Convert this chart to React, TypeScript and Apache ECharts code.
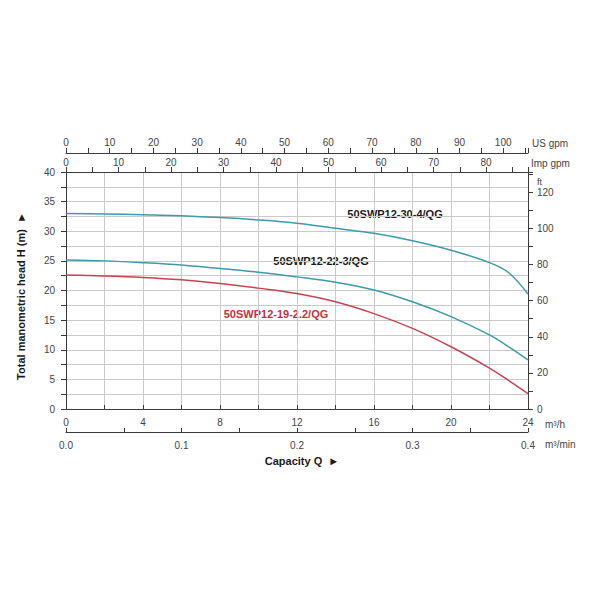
import React, { useEffect, useRef } from 'react';
import * as echarts from 'echarts';

// Flow in m³/h, head in m
const flowM3h = [0, 2, 4, 6, 8, 10, 12, 14, 16, 18, 20, 22, 23, 24];
const head30_4 = [33.0, 32.9, 32.8, 32.6, 32.3, 31.9, 31.35, 30.5, 29.65, 28.4, 26.8, 24.7, 23.0, 19.4];
const head22_3 = [25.15, 25.0, 24.7, 24.3, 23.7, 23.1, 22.3, 21.4, 20.1, 18.1, 15.6, 12.5, 10.5, 8.3];
const head19_22 = [22.6, 22.45, 22.2, 21.8, 21.2, 20.4, 19.5, 18.1, 16.1, 13.6, 10.5, 6.9, 4.8, 2.6];
const seriesNames = ['50SWP12-30-4/QG', '50SWP12-22-3/QG', '50SWP12-19-2.2/QG'];
const unitLabels = ['US gpm', 'Imp gpm', 'ft', 'm³/h', 'm³/min'];
const axisTitles = ['Total manometric head H (m)  ►', 'Capacity Q  ►'];

const Q_MAX = 24;
const H_MAX = 40;
const M3H_TO_USGPM = 4.40287;
const M3H_TO_IMPGPM = 3.66615;
const M_TO_FT = 1 / 0.3048;

const FONT = '"Liberation Sans", Arial, Helvetica, sans-serif';
const TEAL = '#3d99ad';
const RED = '#c4444f';
const AXIS = '#3a3a3a';
const LABEL = '#444';

const multipleOf = (step: number, digits = 0) => (v: number) => {
  const r = Math.round(v / step) * step;
  return Math.abs(v - r) < 1e-6 ? r.toFixed(digits) : '';
};

const pairs = (ys: number[]) => flowM3h.map((q, i) => [q, ys[i]]);

export default function App() {
  const ref = useRef<HTMLDivElement>(null);
  useEffect(() => {
    if (!ref.current) return;
    const chart = echarts.init(ref.current, undefined, { renderer: 'svg' });
    const axisLine = { show: true, onZero: false, lineStyle: { color: AXIS, width: 1 } };
    const labelBase = { color: LABEL, fontSize: 10, fontFamily: FONT };
    const option: any = {
      animation: false,
      backgroundColor: '#ffffff',
      textStyle: { fontFamily: FONT },
      grid: { left: 66, right: 72, top: 172, bottom: 191, containLabel: false, outerBoundsMode: 'none' },
      xAxis: [
        {
          type: 'value', position: 'bottom', min: 0, max: Q_MAX, interval: 2,
          axisLine,
          axisTick: { show: true, inside: true, length: 4, lineStyle: { color: AXIS } },
          axisLabel: { ...labelBase, margin: 8, formatter: multipleOf(4) },
          splitLine: { show: true, lineStyle: { color: '#c9c9c9', width: 1 } },
        },
        {
          type: 'value', position: 'bottom', offset: 23, min: 0, max: 0.4, interval: 0.05,
          axisLine,
          axisTick: { show: true, inside: true, length: 4, lineStyle: { color: AXIS } },
          axisLabel: { ...labelBase, margin: 8, formatter: multipleOf(0.1, 1) },
          splitLine: { show: false },
        },
        {
          type: 'value', position: 'top', offset: 0, min: 0, max: Q_MAX * M3H_TO_IMPGPM, interval: 5,
          axisLine,
          axisTick: { show: true, inside: false, length: 5, lineStyle: { color: AXIS } },
          axisLabel: { ...labelBase, margin: 5, formatter: multipleOf(10) },
          splitLine: { show: false },
        },
        {
          type: 'value', position: 'top', offset: 19, min: 0, max: Q_MAX * M3H_TO_USGPM, interval: 5,
          axisLine,
          axisTick: { show: true, inside: false, length: 5, lineStyle: { color: AXIS } },
          axisLabel: { ...labelBase, margin: 6, formatter: multipleOf(10) },
          splitLine: { show: false },
        },
      ],
      yAxis: [
        {
          type: 'value', position: 'left', min: 0, max: H_MAX, interval: 2.5,
          axisLine,
          axisTick: { show: true, inside: false, length: 5, lineStyle: { color: AXIS } },
          axisLabel: { ...labelBase, margin: 11, formatter: multipleOf(5) },
          splitLine: { show: true, lineStyle: { color: '#c9c9c9', width: 1 } },
        },
        {
          type: 'value', position: 'right', min: 0, max: H_MAX * M_TO_FT, interval: 10,
          axisLine,
          axisTick: { show: true, inside: false, length: 5, lineStyle: { color: AXIS } },
          axisLabel: { ...labelBase, margin: 9, formatter: multipleOf(20) },
          splitLine: { show: false },
        },
      ],
      series: [
        { name: seriesNames[0], data: pairs(head30_4), color: TEAL },
        { name: seriesNames[1], data: pairs(head22_3), color: TEAL },
        { name: seriesNames[2], data: pairs(head19_22), color: RED },
      ].map((s) => ({
        type: 'line', name: s.name, data: s.data, xAxisIndex: 0, yAxisIndex: 0,
        smooth: 0.35, symbol: 'none', lineStyle: { color: s.color, width: 1.5 }, itemStyle: { color: s.color },
      })),
      graphic: [
        { type: 'text', x: 395, y: 214, style: { text: seriesNames[0], fill: '#1a1a1a', font: `bold 11px ${FONT}`, textAlign: 'center', textVerticalAlign: 'middle' } },
        { type: 'text', x: 321, y: 261, style: { text: seriesNames[1], fill: '#1a1a1a', font: `bold 11px ${FONT}`, textAlign: 'center', textVerticalAlign: 'middle' } },
        { type: 'text', x: 276, y: 314, style: { text: seriesNames[2], fill: '#c0333d', font: `bold 11px ${FONT}`, textAlign: 'center', textVerticalAlign: 'middle' } },
        { type: 'text', x: 532, y: 143, style: { text: unitLabels[0], fill: LABEL, font: `10px ${FONT}`, textAlign: 'left', textVerticalAlign: 'middle' } },
        { type: 'text', x: 531, y: 163, style: { text: unitLabels[1], fill: LABEL, font: `10px ${FONT}`, textAlign: 'left', textVerticalAlign: 'middle' } },
        { type: 'text', x: 537, y: 182, style: { text: unitLabels[2], fill: LABEL, font: `9px ${FONT}`, textAlign: 'left', textVerticalAlign: 'middle' } },
        { type: 'text', x: 545, y: 424, style: { text: unitLabels[3], fill: LABEL, font: `10px ${FONT}`, textAlign: 'left', textVerticalAlign: 'middle' } },
        { type: 'text', x: 545, y: 444, style: { text: unitLabels[4], fill: LABEL, font: `10px ${FONT}`, textAlign: 'left', textVerticalAlign: 'middle' } },
        { type: 'text', x: 21, y: 296, rotation: Math.PI / 2, style: { text: axisTitles[0], fill: '#1a1a1a', font: `bold 11px ${FONT}`, textAlign: 'center', textVerticalAlign: 'middle' } },
        { type: 'text', x: 302, y: 461, style: { text: axisTitles[1], fill: '#1a1a1a', font: `bold 11px ${FONT}`, textAlign: 'center', textVerticalAlign: 'middle' } },
      ],
    };
    chart.setOption(option);
    return () => chart.dispose();
  }, []);
  return <div ref={ref} style={{ position: 'fixed', left: 0, top: 0, width: 600, height: 600, background: '#fff' }} />;
}
